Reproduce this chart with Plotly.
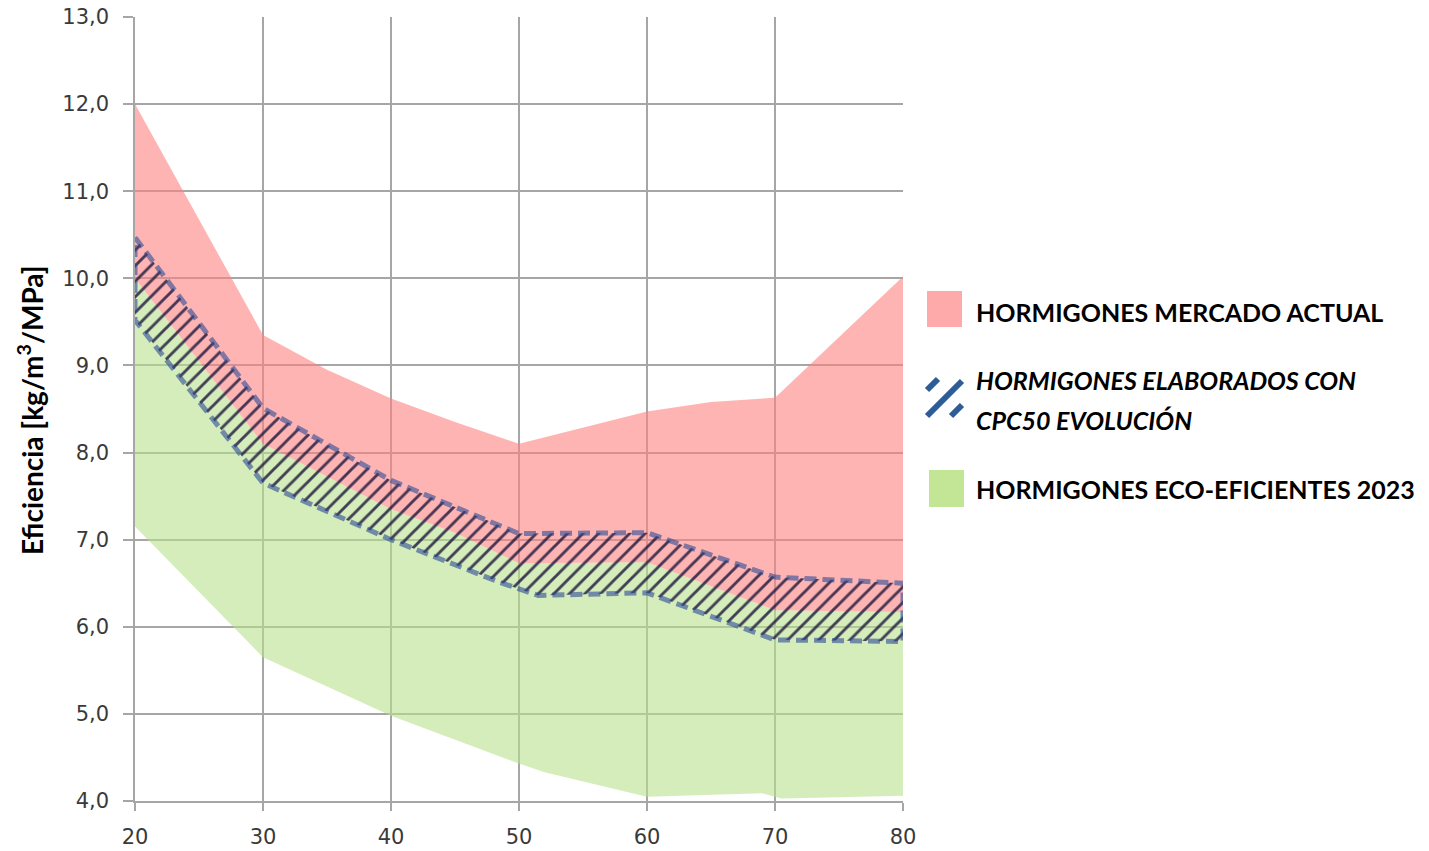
import plotly.graph_objects as go

# ---- data ----
mercado_top_x = [20, 30, 35, 40, 45, 50, 60, 65, 70, 80]
mercado_top_y = [12.0, 9.35, 8.95, 8.62, 8.35, 8.10, 8.47, 8.58, 8.63, 10.02]

limite_x = [20, 30, 40, 45, 50, 60, 70, 80]
limite_y = [10.0, 8.10, 7.35, 7.08, 6.73, 6.74, 6.19, 6.17]

eco_bottom_x = [20, 30, 40, 50, 52, 60, 69, 70.5, 80]
eco_bottom_y = [7.15, 5.65, 4.98, 4.43, 4.33, 4.05, 4.09, 4.03, 4.06]

cpc50_top_x = [20, 30, 40, 48.5, 50, 60, 70, 80]
cpc50_top_y = [10.47, 8.51, 7.68, 7.17, 7.07, 7.08, 6.57, 6.50]
cpc50_bot_x = [20, 30, 40, 48.5, 51.5, 60, 70, 80]
cpc50_bot_y = [9.52, 7.65, 7.00, 6.51, 6.36, 6.39, 5.85, 5.83]

x_ticks = [20, 30, 40, 50, 60, 70, 80]
y_ticks = [4, 5, 6, 7, 8, 9, 10, 11, 12, 13]

legend_labels = [
    "HORMIGONES MERCADO ACTUAL",
    "<i>HORMIGONES ELABORADOS CON</i>",
    "<i>CPC50 EVOLUCIÓN</i>",
    "HORMIGONES ECO-EFICIENTES 2023",
]
y_title = "Eficiencia [kg/m<sup>3</sup>/MPa]"

# ---- figure ----
W, H = 1429, 851
L, R, T, B = 135, 903, 17, 801

PINK = "rgba(255,130,130,0.6)"
GREEN = "rgba(185,223,142,0.6)"

fig = go.Figure()

fig.add_trace(go.Scatter(
    x=limite_x + eco_bottom_x[::-1], y=limite_y + eco_bottom_y[::-1],
    fill="toself", fillcolor=GREEN, mode="lines", line=dict(width=0),
    hoverinfo="skip", showlegend=False))

fig.add_trace(go.Scatter(
    x=mercado_top_x + limite_x[::-1], y=mercado_top_y + limite_y[::-1],
    fill="toself", fillcolor=PINK, mode="lines", line=dict(width=0),
    hoverinfo="skip", showlegend=False))

fig.add_trace(go.Scatter(
    x=cpc50_top_x + cpc50_bot_x[::-1] + [cpc50_top_x[0]],
    y=cpc50_top_y + cpc50_bot_y[::-1] + [cpc50_top_y[0]],
    fill="toself", fillcolor="rgba(0,0,0,0)",
    fillpattern=dict(shape="/", fgcolor="rgba(30,25,60,0.82)", bgcolor="rgba(0,0,0,0)",
                     size=11, solidity=0.26, fillmode="replace"),
    mode="lines", line=dict(width=5, color="rgba(45,75,150,0.6)", dash="12px,6px"),
    hoverinfo="skip", showlegend=False))

GRID = "#A6A6A6"
TICKFONT = dict(family="DejaVu Sans", size=21, color="#3a3a3a")
fig.update_xaxes(range=[20, 80], tickvals=x_ticks, showgrid=True, gridcolor=GRID, gridwidth=1.5,
                 showline=True, linecolor=GRID, linewidth=1.5, ticks="outside", ticklen=8,
                 tickcolor=GRID, tickwidth=1.5, zeroline=False, automargin=False,
                 ticklabelstandoff=8, tickfont=TICKFONT)
fig.update_yaxes(range=[4, 13], tickvals=y_ticks, tickformat=".1f", showgrid=True, gridcolor=GRID,
                 gridwidth=1.5, showline=True, linecolor=GRID, linewidth=1.5, ticks="outside",
                 ticklen=10, tickcolor=GRID, tickwidth=1.5, zeroline=False, automargin=False,
                 ticklabelstandoff=10, tickfont=TICKFONT)


def px_x(p):
    return (p - L) / (R - L)


def px_y(p):
    return (B - p) / (B - T)


shapes = []
# pink swatch
shapes.append(dict(type="rect", xref="paper", yref="paper", x0=px_x(927), x1=px_x(962),
                   y0=px_y(327), y1=px_y(291), fillcolor="#FFAAAA", line=dict(width=0)))
# green swatch
shapes.append(dict(type="rect", xref="paper", yref="paper", x0=px_x(929), x1=px_x(964),
                   y0=px_y(507), y1=px_y(470), fillcolor="#C2E696", line=dict(width=0)))
# hatched swatch (three stripes)
for (ax, ay, bx, by) in [(927, 390, 938, 379), (927, 416, 962, 381), (951, 416, 962, 405)]:
    shapes.append(dict(type="line", xref="paper", yref="paper", x0=px_x(ax), y0=px_y(ay),
                       x1=px_x(bx), y1=px_y(by), line=dict(color="#2E5C96", width=6)))

annotations = []
LEG_FONT = dict(family="Lato", size=25, color="#000000", weight="bold")
for text, py in zip(legend_labels, [312, 380, 420, 489]):
    annotations.append(dict(text=text, xref="paper", yref="paper", x=px_x(974), y=px_y(py),
                            xanchor="left", yanchor="middle", showarrow=False, font=LEG_FONT))
annotations.append(dict(text=y_title, xref="paper", yref="paper", x=px_x(31), y=px_y(410),
                        xanchor="center", yanchor="middle", textangle=-90, showarrow=False,
                        font=dict(family="Lato", size=28, color="#000000", weight="bold")))

fig.update_layout(width=W, height=H, autosize=False,
                  margin=dict(l=L, r=W - R, t=T, b=H - B, pad=0, autoexpand=False),
                  plot_bgcolor="white", paper_bgcolor="white", separators=",.",
                  shapes=shapes, annotations=annotations, showlegend=False)

fig.write_html("out.html", config={"displayModeBar": False},
               post_script="document.body.style.margin='0';document.body.style.overflow='hidden';")
